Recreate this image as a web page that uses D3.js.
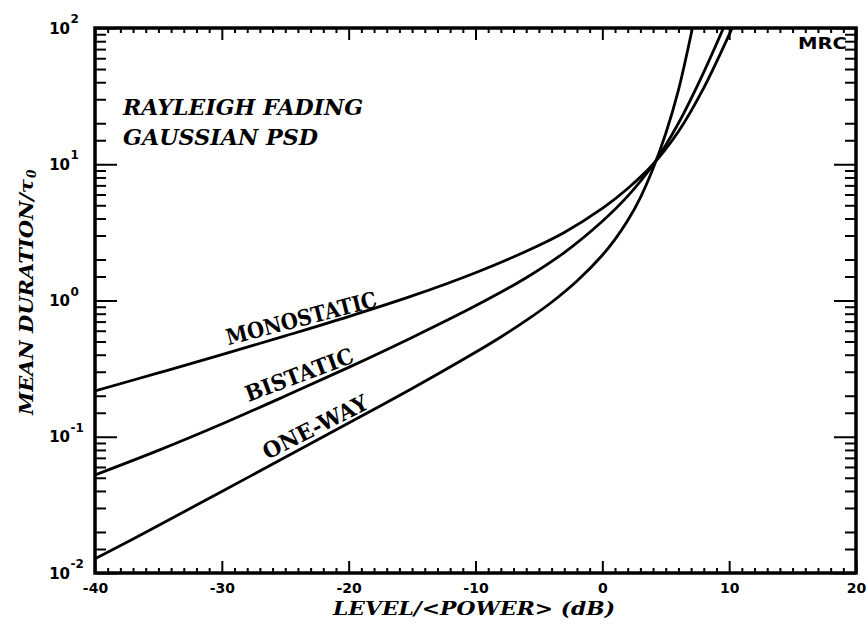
<!DOCTYPE html>
<html>
<head>
<meta charset="utf-8">
<script src="https://cdn.jsdelivr.net/npm/d3@7"></script>
<style>
  html, body { margin: 0; padding: 0; background: #fff; }
  svg { display: block; }
</style>
</head>
<body>
<svg id="chart" width="868" height="626"></svg>
<script>
// Mean fade duration vs. level for a Rayleigh-fading channel (Gaussian PSD)
const oneWayDb = [-40, -35, -30, -25, -20, -15, -10, -8, -6, -4, -2, 0, 1, 2, 3, 4, 5, 6, 7, 7.3];
const oneWay   = [0.0127, 0.0223, 0.0397, 0.0706, 0.126, 0.226, 0.417, 0.540, 0.714, 0.971, 1.39, 2.15, 2.81, 3.86, 5.7, 9.3, 16.8, 35, 90, 122];

const bistaticDb = [-40, -35, -30, -25, -20, -15, -10, -6, -3, 0, 2, 4, 6, 8, 10];
const bistatic   = [0.0524, 0.0794, 0.124, 0.199, 0.323, 0.536, 0.915, 1.47, 2.25, 3.82, 5.84, 9.92, 20.0, 47.5, 125];

const monostaticDb = [-40, -35, -30, -25, -20, -15, -10, -6, -3, 0, 2, 4, 6, 8, 10, 10.6];
const monostatic   = [0.217, 0.294, 0.400, 0.550, 0.762, 1.08, 1.60, 2.30, 3.16, 4.74, 6.64, 10.0, 17.4, 36.4, 89.3, 119];

const seriesNames = ["MONOSTATIC", "BISTATIC", "ONE-WAY"];

const xMajorTicks  = [-40, -30, -20, -10, 0, 10, 20];
const xTickLabels  = ["-40", "-30", "-20", "-10", "0", "10", "20"];
const yExponents   = [-2, -1, 0, 1, 2];
const yMinorFactors = [1.5, 2, 3, 4, 5, 6, 7, 8, 9];

const titleLines = ["RAYLEIGH FADING", "GAUSSIAN PSD"];
const xTitle = "LEVEL/<POWER> (dB)";
const yTitle = "MEAN DURATION/\u03C4";
const yTitleSub = "0";
const logoText = "MRC";

// ---- layout ----
const W = 868, H = 626;
const margin = { top: 28, right: 12, bottom: 53, left: 95 };
const iw = W - margin.left - margin.right;
const ih = H - margin.top - margin.bottom;

const svg = d3.select("#chart");
svg.append("rect").attr("width", W).attr("height", H).attr("fill", "#fff");

const x = d3.scaleLinear().domain([-40, 20]).range([margin.left, margin.left + iw]);
const y = d3.scaleLog().domain([0.01, 100]).range([margin.top + ih, margin.top]);

const sansBold = "'DejaVu Sans', 'Liberation Sans', sans-serif";
const serif = "'DejaVu Serif', 'Liberation Serif', serif";

// ---- ticks (all pointing into the plot) ----
const xMinor = d3.range(-40, 21, 1).filter(v => !xMajorTicks.includes(v));
const yMajor = yExponents.map(e => Math.pow(10, e));
const yMinor = [];
yExponents.slice(0, -1).forEach(e => yMinorFactors.forEach(f => yMinor.push(f * Math.pow(10, e))));

function styleAxis(g) {
  g.select(".domain").remove();
  g.selectAll(".tick line").attr("stroke", "#000").attr("stroke-width", 2);
}

svg.append("g").attr("transform", `translate(0,${margin.top + ih})`)
  .call(d3.axisBottom(x).tickValues(xMinor).tickSize(-5).tickFormat(""))
  .call(styleAxis);
svg.append("g").attr("transform", `translate(0,${margin.top + ih})`)
  .call(d3.axisBottom(x).tickValues(xMajorTicks).tickSize(-12).tickPadding(10)
    .tickFormat((d, i) => xTickLabels[i]))
  .call(styleAxis)
  .call(g => g.selectAll("text")
    .attr("font-family", sansBold).attr("font-weight", "bold")
    .attr("font-size", 14).attr("fill", "#000"));

svg.append("g").attr("transform", `translate(0,${margin.top})`)
  .call(d3.axisTop(x).tickValues(xMinor).tickSize(-5).tickFormat(""))
  .call(styleAxis);
svg.append("g").attr("transform", `translate(0,${margin.top})`)
  .call(d3.axisTop(x).tickValues(xMajorTicks).tickSize(-12).tickFormat(""))
  .call(styleAxis);

svg.append("g").attr("transform", `translate(${margin.left},0)`)
  .call(d3.axisLeft(y).tickValues(yMinor).tickSize(-11).tickFormat(""))
  .call(styleAxis);
svg.append("g").attr("transform", `translate(${margin.left},0)`)
  .call(d3.axisLeft(y).tickValues(yMajor).tickSize(-22).tickFormat(""))
  .call(styleAxis);
svg.append("g").attr("transform", `translate(${margin.left + iw},0)`)
  .call(d3.axisRight(y).tickValues(yMinor).tickSize(-11).tickFormat(""))
  .call(styleAxis);
svg.append("g").attr("transform", `translate(${margin.left + iw},0)`)
  .call(d3.axisRight(y).tickValues(yMajor).tickSize(-22).tickFormat(""))
  .call(styleAxis);

// y tick labels: 10 with superscript exponent
const yLab = svg.append("g").attr("font-family", sansBold).attr("font-weight", "bold").attr("fill", "#000");
yExponents.forEach(e => {
  const yy = y(Math.pow(10, e));
  yLab.append("text").attr("x", 70).attr("y", yy + 5.5)
    .attr("text-anchor", "end").attr("font-size", 15).text("10");
  yLab.append("text").attr("x", 70.5).attr("y", yy - 5)
    .attr("font-size", 12).text(e < 0 ? "-" + Math.abs(e) : String(e));
});

// ---- frame ----
svg.append("rect")
  .attr("x", margin.left).attr("y", margin.top)
  .attr("width", iw).attr("height", ih)
  .attr("fill", "none").attr("stroke", "#000").attr("stroke-width", 3.5);

// ---- curves ----
svg.append("clipPath").attr("id", "plotClip")
  .append("rect").attr("x", margin.left).attr("y", margin.top).attr("width", iw).attr("height", ih);

const line = d3.line().x(d => x(d[0])).y(d => y(d[1])).curve(d3.curveCatmullRom.alpha(0.5));
const curves = [
  d3.zip(monostaticDb, monostatic),
  d3.zip(bistaticDb, bistatic),
  d3.zip(oneWayDb, oneWay)
];
svg.append("g").attr("clip-path", "url(#plotClip)")
  .selectAll("path").data(curves).join("path")
  .attr("d", line)
  .attr("fill", "none").attr("stroke", "#000").attr("stroke-width", 2.8)
  .attr("stroke-linejoin", "round").attr("stroke-linecap", "round");

// ---- curve labels, laid along each line ----
const curveLabels = [
  { name: seriesNames[0], db: -29.5, v: 0.47,  angle: -14.5, len: 155 },
  { name: seriesNames[1], db: -27.9, v: 0.18,  angle: -20.5, len: 114 },
  { name: seriesNames[2], db: -26.4, v: 0.0675, angle: -27,  len: 115 }
];
svg.append("g").selectAll("text").data(curveLabels).join("text")
  .attr("transform", d => `translate(${x(d.db)},${y(d.v)}) rotate(${d.angle})`)
  .attr("font-family", serif).attr("font-weight", "bold").attr("font-size", 22)
  .attr("textLength", d => d.len).attr("lengthAdjust", "spacingAndGlyphs")
  .attr("fill", "#000")
  .text(d => d.name);

// ---- annotation block ----
const note = svg.append("g").attr("font-family", serif).attr("font-weight", "bold")
  .attr("font-style", "italic").attr("font-size", 23).attr("fill", "#000");
note.append("text").attr("x", 123).attr("y", 115)
  .attr("textLength", 240).attr("lengthAdjust", "spacingAndGlyphs").text(titleLines[0]);
note.append("text").attr("x", 123).attr("y", 145)
  .attr("textLength", 195).attr("lengthAdjust", "spacingAndGlyphs").text(titleLines[1]);

svg.append("text").attr("x", 798).attr("y", 48.5)
  .attr("font-family", sansBold).attr("font-weight", "900").attr("font-size", 15)
  .attr("textLength", 49).attr("lengthAdjust", "spacingAndGlyphs")
  .attr("fill", "#000").text(logoText);

// ---- axis titles ----
svg.append("text").attr("x", 333).attr("y", 615)
  .attr("font-family", serif).attr("font-weight", "bold").attr("font-style", "italic")
  .attr("font-size", 19).attr("textLength", 282).attr("lengthAdjust", "spacingAndGlyphs")
  .attr("fill", "#000").text(xTitle);

const yt = svg.append("g").attr("transform", "translate(33,415) rotate(-90)")
  .attr("font-family", serif).attr("font-weight", "bold").attr("font-style", "italic").attr("fill", "#000");
yt.append("text").attr("x", 0).attr("y", 0).attr("font-size", 19)
  .attr("textLength", 236).attr("lengthAdjust", "spacingAndGlyphs").text(yTitle);
yt.append("text").attr("x", 237).attr("y", 3).attr("font-size", 12).text(yTitleSub);
</script>
</body>
</html>
